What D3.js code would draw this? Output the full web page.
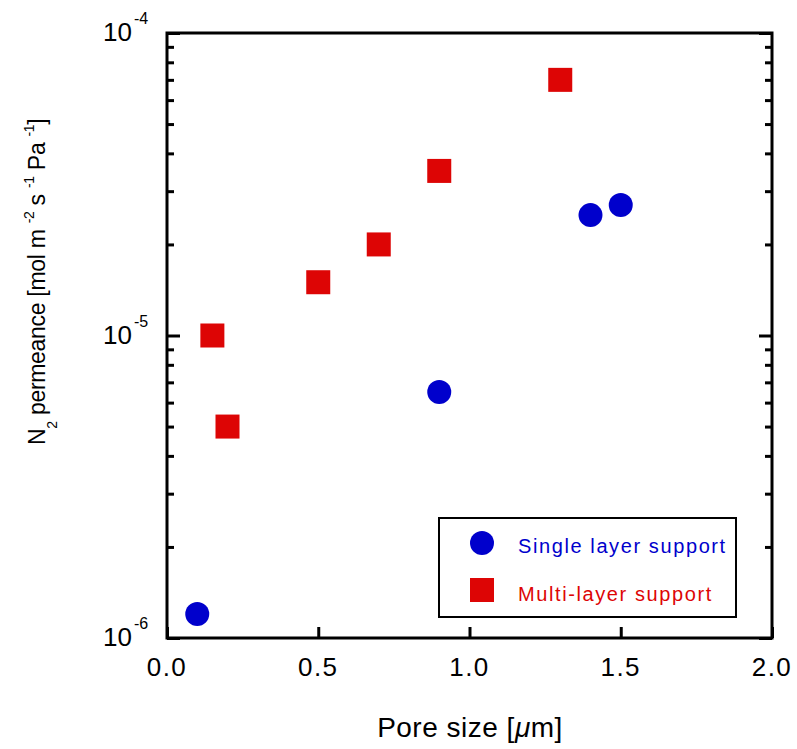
<!DOCTYPE html>
<html>
<head>
    <meta charset="utf-8">
    <title>N2 permeance vs pore size</title>
    <style>
        body { margin: 0; background: #fff; }
        text { font-family: "Liberation Sans", Arial, sans-serif; fill: #000; }
    </style>
</head>
<body>
<div id="plot"></div>
<script src="https://cdn.jsdelivr.net/npm/d3@7"></script>
<script>

    // single layer support (circles)
    let singlePore = [0.1, 0.9, 1.4, 1.5];
    let singlePerm = [1.2e-6, 6.5e-6, 2.5e-5, 2.7e-5];

    // multi-layer support (squares)
    let multiPore = [0.15, 0.2, 0.5, 0.7, 0.9, 1.3];
    let multiPerm = [1.0e-5, 5.0e-6, 1.5e-5, 2.0e-5, 3.5e-5, 7.0e-5];

    let xTicks = [0, 0.5, 1.0, 1.5, 2.0];
    let yDecades = [1e-6, 1e-5, 1e-4];
    let yExponents = ['-6', '-5', '-4'];
    let legendLabels = ['Single layer support', 'Multi-layer support'];

    let blue = '#0000cc';
    let red = '#dd0505';

    let svgWidth = 797;
    let svgHeight = 749;
    let margin = {top: 33, right: 25, bottom: 111, left: 167};
    let width = svgWidth - margin.left - margin.right;
    let height = svgHeight - margin.top - margin.bottom;

    function translate(x, y) {
      return 'translate(' + x + ', ' + y + ')';
    }

    let svg = d3.select('#plot')
      .append('svg')
        .attr('width', svgWidth)
        .attr('height', svgHeight);

    let g = svg.append('g')
        .attr('transform', translate(margin.left, margin.top));

    let x = d3.scaleLinear().domain([0, 2]).range([0, width]);
    let y = d3.scaleLog().domain([1e-6, 1e-4]).range([height, 0]);

    // minor log ticks 2..9 in each decade
    let minorTicks = [];
    [1e-6, 1e-5].forEach(function(d) {
        for (let k = 2; k <= 9; k++) minorTicks.push(d * k);
    });

    function styleAxis(sel) {
        sel.select('.domain').remove();
        sel.selectAll('.tick line').attr('stroke', '#000').attr('stroke-width', 3);
    }

    // x ticks, bottom only, inward
    g.append('g')
      .attr('transform', translate(0, height))
      .call(d3.axisBottom(x).tickValues(xTicks).tickSize(-11).tickFormat(''))
      .call(styleAxis);

    // y ticks left and right, inward
    g.append('g')
      .call(d3.axisLeft(y).tickValues(yDecades).tickSize(-13).tickFormat(''))
      .call(styleAxis);
    g.append('g')
      .call(d3.axisLeft(y).tickValues(minorTicks).tickSize(-7).tickFormat(''))
      .call(styleAxis);
    g.append('g')
      .attr('transform', translate(width, 0))
      .call(d3.axisRight(y).tickValues(yDecades).tickSize(-13).tickFormat(''))
      .call(styleAxis);
    g.append('g')
      .attr('transform', translate(width, 0))
      .call(d3.axisRight(y).tickValues(minorTicks).tickSize(-7).tickFormat(''))
      .call(styleAxis);

    // frame
    g.append('rect')
      .attr('width', width)
      .attr('height', height)
      .attr('fill', 'none')
      .attr('stroke', '#000')
      .attr('stroke-width', 3);

    // x tick labels
    g.selectAll('.xlab')
      .data(xTicks)
      .enter()
      .append('text')
        .attr('class', 'xlab')
        .attr('x', d => x(d))
        .attr('y', height + 38)
        .attr('text-anchor', 'middle')
        .style('font-size', '26px')
        .style('letter-spacing', '1.5px')
        .text(d => d.toFixed(1));

    // y tick labels 10^n
    let ylab = g.selectAll('.ylab')
      .data(yDecades)
      .enter()
      .append('text')
        .attr('class', 'ylab')
        .attr('x', -64)
        .attr('y', d => y(d) + 8)
        .style('font-size', '26px');
    ylab.append('tspan').text('10');
    ylab.append('tspan')
        .attr('dx', 2)
        .attr('dy', -17)
        .style('font-size', '16px')
        .text((d, i) => yExponents[i]);

    // markers
    let r = 12;
    g.selectAll('.single')
      .data(singlePore)
      .enter()
      .append('circle')
        .attr('class', 'single')
        .attr('cx', d => x(d))
        .attr('cy', (d, i) => y(singlePerm[i]))
        .attr('r', r)
        .attr('fill', blue);

    g.selectAll('.multi')
      .data(multiPore)
      .enter()
      .append('rect')
        .attr('class', 'multi')
        .attr('x', d => x(d) - r)
        .attr('y', (d, i) => y(multiPerm[i]) - r)
        .attr('width', 2 * r)
        .attr('height', 2 * r)
        .attr('fill', red);

    // legend
    let legend = svg.append('g').attr('transform', translate(439, 518));
    legend.append('rect')
      .attr('width', 297)
      .attr('height', 99)
      .attr('fill', '#fff')
      .attr('stroke', '#000')
      .attr('stroke-width', 2);
    legend.append('circle')
      .attr('cx', 43).attr('cy', 25).attr('r', r)
      .attr('fill', blue);
    legend.append('rect')
      .attr('x', 43 - r).attr('y', 72 - r)
      .attr('width', 2 * r).attr('height', 2 * r)
      .attr('fill', red);
    legend.selectAll('.leglab')
      .data(legendLabels)
      .enter()
      .append('text')
        .attr('class', 'leglab')
        .attr('x', 79)
        .attr('y', (d, i) => 35 + i * 48)
        .style('font-size', '20px')
        .style('letter-spacing', '1.6px')
        .style('fill', (d, i) => i === 0 ? blue : red)
        .text(d => d);

    // x title
    let xt = svg.append('text')
      .attr('x', 470)
      .attr('y', 737)
      .attr('text-anchor', 'middle')
      .style('font-size', '28px')
      .style('letter-spacing', '0.5px');
    xt.append('tspan').text('Pore size [');
    xt.append('tspan').style('font-style', 'italic').text('\u03bc');
    xt.append('tspan').text('m]');

    // y title
    let yt = svg.append('text')
      .attr('transform', translate(45, 445) + ' rotate(-90)')
      .style('font-size', '23px')
      .style('letter-spacing', '-0.3px');
    let parts = [
        ['N', 0, 23],
        ['2', 12, 14],
        [' permeance [mol m ', -12, 23],
        ['-2', -11, 14],
        [' s ', 11, 23],
        ['-1', -11, 14],
        [' Pa ', 11, 23],
        ['-1', -11, 14],
        [']', 11, 23]
    ];
    parts.forEach(function(p) {
        yt.append('tspan')
          .attr('dy', p[1])
          .style('font-size', p[2] + 'px')
          .text(p[0]);
    });

</script>
</body>
</html>
